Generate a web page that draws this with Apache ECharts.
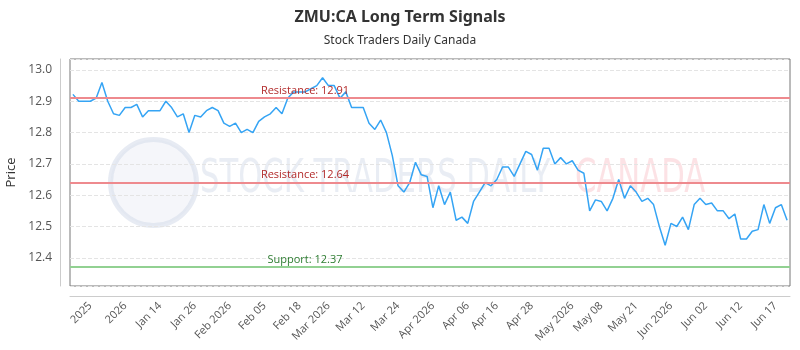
<!DOCTYPE html>
<html>
<head>
<meta charset="utf-8">
<script src="https://cdn.jsdelivr.net/npm/echarts@6/dist/echarts.min.js"></script>
<style>
  html, body { margin: 0; padding: 0; background: #fff; }
  #chart { width: 800px; height: 350px; }
</style>
</head>
<body>
<div id="chart"></div>
<script>
// price points in four stretches
var pricesDecJan = [12.922, 12.90, 12.90, 12.90, 12.91, 12.96, 12.90, 12.86, 12.855, 12.88, 12.88, 12.89, 12.85, 12.87, 12.87, 12.87,
  12.90, 12.88, 12.85, 12.86, 12.80, 12.855, 12.85, 12.87, 12.88, 12.87, 12.83, 12.82, 12.83, 12.80, 12.81];
var pricesFebMar = [12.80, 12.836, 12.85, 12.86, 12.88, 12.86, 12.91, 12.93, 12.93, 12.93, 12.94, 12.95, 12.975, 12.95, 12.95, 12.91,
  12.93, 12.88, 12.88, 12.88, 12.83, 12.81, 12.84, 12.80, 12.727, 12.63, 12.61, 12.64, 12.705, 12.665, 12.66];
var pricesAprMay = [12.56, 12.63, 12.57, 12.61, 12.52, 12.53, 12.51, 12.58, 12.61, 12.64, 12.63, 12.65, 12.69, 12.69, 12.66, 12.70,
  12.74, 12.73, 12.68, 12.75, 12.75, 12.70, 12.72, 12.70, 12.71, 12.68, 12.67, 12.55, 12.585, 12.58, 12.55];
var pricesMayJun = [12.59, 12.65, 12.59, 12.63, 12.61, 12.58, 12.59, 12.57, 12.50, 12.44, 12.51, 12.50, 12.53, 12.49, 12.57, 12.59,
  12.57, 12.575, 12.55, 12.55, 12.525, 12.54, 12.46, 12.46, 12.485, 12.49, 12.57, 12.51, 12.56, 12.57, 12.52];

var tickLabels = ['2025', '2026', 'Jan 14', 'Jan 26', 'Feb 2026', 'Feb 05', 'Feb 18', 'Mar 2026', 'Mar 12', 'Mar 24',
  'Apr 2026', 'Apr 06', 'Apr 16', 'Apr 28', 'May 2026', 'May 08', 'May 21', 'Jun 2026', 'Jun 02', 'Jun 12', 'Jun 17'];
var tickIndex = [3, 9, 15, 21, 27, 33, 39, 44, 50, 56, 62, 68, 73, 79, 86, 91, 97, 103, 109, 115, 121];

var resistanceHigh = 12.91;
var resistanceLow = 12.64;
var support = 12.37;

var prices = pricesDecJan.concat(pricesFebMar, pricesAprMay, pricesMayJun);
var categories = prices.map(function (v, i) { return String(i); });

var myChart = echarts.init(document.getElementById('chart'));

var option = {
  animation: false,
  textStyle: { fontFamily: 'Open Sans' },
  title: {
    text: 'ZMU:CA Long Term Signals',
    subtext: 'Stock Traders Daily Canada',
    left: 'center',
    top: 4,
    itemGap: 10,
    textStyle: { fontFamily: 'Noto Sans', fontSize: 16, fontWeight: 'bold', color: '#333' },
    subtextStyle: { fontFamily: 'Noto Sans', fontSize: 12, color: '#333' }
  },
  // faint watermark behind the plot
  graphic: [
    {
      type: 'circle', left: 108, top: 137, z: 0,
      shape: { r: 43 },
      style: { fill: 'rgba(225,230,240,0.35)', stroke: 'rgba(215,222,235,0.6)', lineWidth: 5 }
    },
    {
      type: 'text', x: 200, y: 157, z: 0, scaleX: 0.74,
      style: { text: 'STOCK TRADERS DAILY', font: 'normal 46px "DejaVu Sans Condensed"', fill: 'rgba(212,220,234,0.5)' }
    },
    {
      type: 'text', x: 575, y: 157, z: 0, scaleX: 0.74,
      style: { text: 'CANADA', font: 'normal 46px "DejaVu Sans Condensed"', fill: 'rgba(250,198,204,0.5)' }
    }
  ],
  grid: {
    left: 70, right: 10, top: 59, bottom: 64,
    show: true, borderColor: '#777', borderWidth: 1,
    outerBoundsMode: 'none'
  },
  xAxis: {
    type: 'category',
    data: categories,
    boundaryGap: true,
    offset: 10,
    axisLine: { lineStyle: { color: '#ccc' } },
    axisTick: { show: false },
    axisLabel: {
      rotate: 45,
      fontSize: 11,
      color: '#555',
      margin: 8,
      interval: function (i) { return tickIndex.indexOf(i) >= 0; },
      formatter: function (v, i) {
        var k = tickIndex.indexOf(i);
        return k >= 0 ? tickLabels[k] : '';
      }
    },
    splitLine: { show: false }
  },
  yAxis: {
    type: 'value',
    min: 12.31,
    max: 13.035,
    splitNumber: 5,
    offset: 10,
    name: 'Price',
    nameLocation: 'middle',
    nameGap: 40,
    nameTextStyle: { fontSize: 13, color: '#333' },
    axisLine: { show: true, lineStyle: { color: '#ccc' } },
    axisTick: { show: false },
    axisLabel: {
      fontSize: 12, color: '#555', margin: 8,
      showMinLabel: false, showMaxLabel: false,
      formatter: function (v) { return v.toFixed(1); }
    },
    splitLine: { lineStyle: { color: '#e4e4e4', type: 'dashed' } }
  },
  series: [{
    name: 'Price',
    type: 'line',
    data: prices,
    showSymbol: false,
    lineStyle: { color: '#35a4f4', width: 1.5 },
    itemStyle: { color: '#35a4f4' },
    z: 3,
    markLine: {
      silent: true,
      symbol: 'none',
      data: [
        {
          yAxis: resistanceHigh,
          lineStyle: { color: '#ee8a8e', width: 2, type: 'solid' },
          label: { formatter: 'Resistance: ' + resistanceHigh, color: '#b22a2a' }
        },
        {
          yAxis: resistanceLow,
          lineStyle: { color: '#ee8a8e', width: 2, type: 'solid' },
          label: { formatter: 'Resistance: ' + resistanceLow, color: '#b22a2a' }
        },
        {
          yAxis: support,
          lineStyle: { color: '#92d192', width: 2, type: 'solid' },
          label: { formatter: 'Support: ' + support, color: '#2e7d32' }
        }
      ],
      label: {
        position: 'insideStartTop',
        distance: [235, 2],
        align: 'center',
        fontSize: 11
      }
    }
  }]
};

myChart.setOption(option);
</script>
</body>
</html>
